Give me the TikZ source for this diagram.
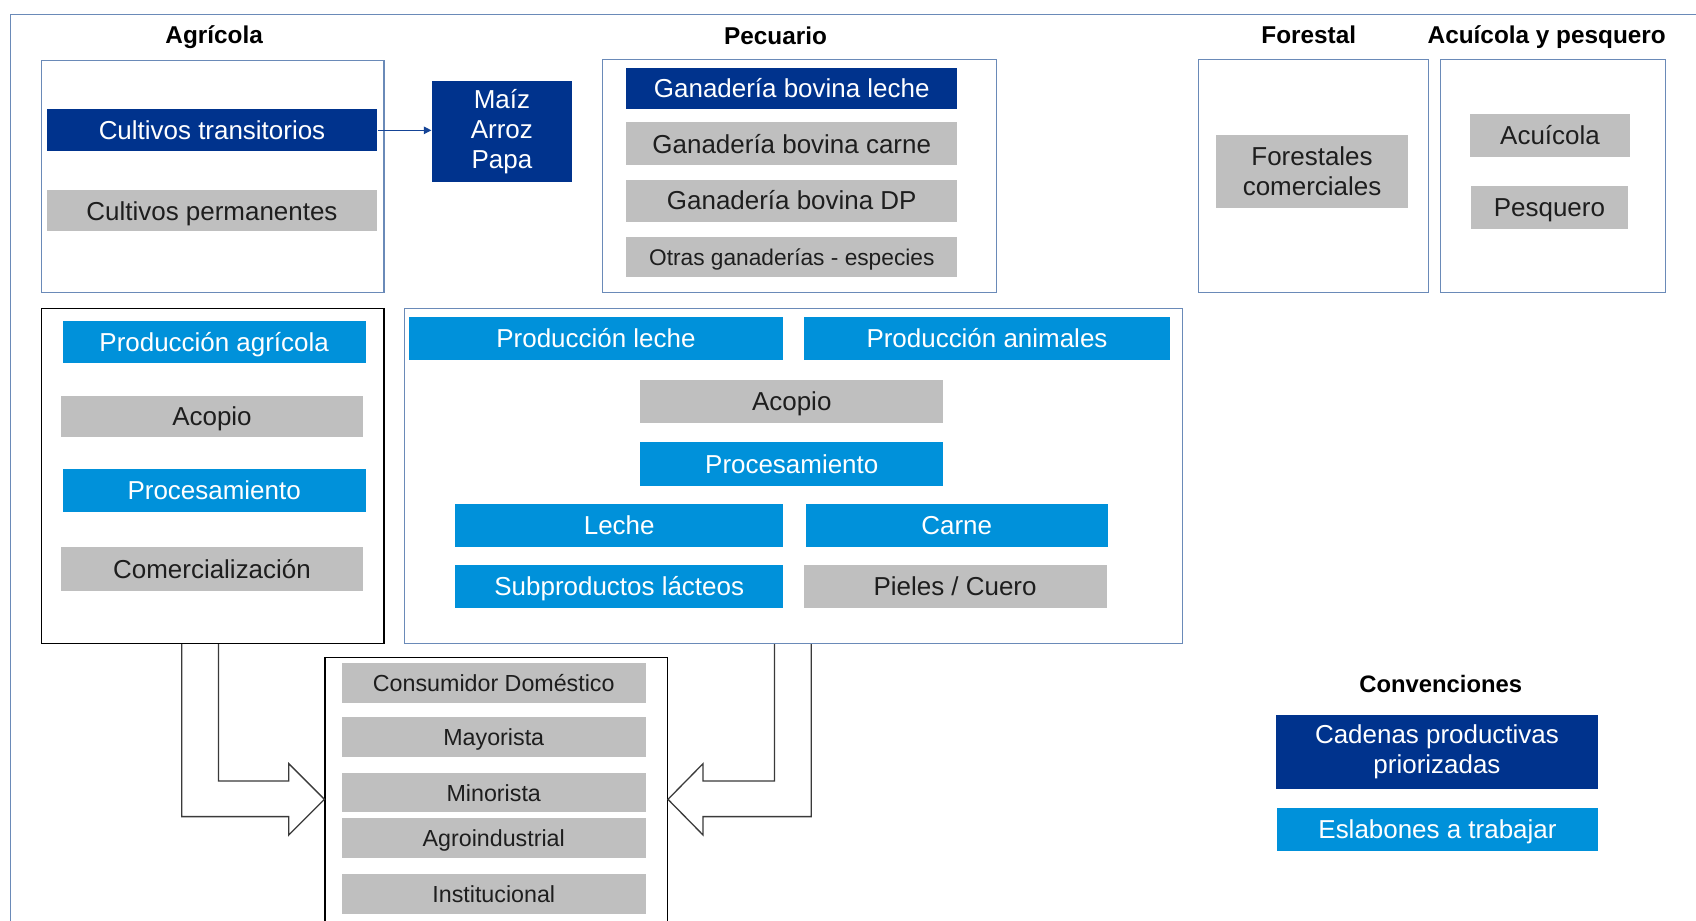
\documentclass[tikz,border=0pt]{standalone}
\usepackage{fontspec}
\setmainfont{Liberation Sans}
\usetikzlibrary{arrows.meta}
\definecolor{dkblue}{HTML}{00338D}
\definecolor{ltblue}{HTML}{0091DA}
\definecolor{gbox}{HTML}{BFBFBF}
\definecolor{frameblue}{HTML}{6A8AB8}
\definecolor{gtext}{HTML}{1E1E1E}
\definecolor{arrowgray}{HTML}{3A3A3A}
\tikzset{
  box/.style={rectangle, inner sep=0pt, align=center, font=\fontsize{24}{27.5}\selectfont,
    text height=22.2pt, text depth=5pt},
  multi/.style={text height={}, text depth={}},
  dk/.style={box, fill=dkblue, text=white},
  lb/.style={box, fill=ltblue, text=white},
  gr/.style={box, fill=gbox, text=gtext},
  ttl/.style={font=\fontsize{22.5}{26}\selectfont\bfseries, text=black, text height=21.1pt, text depth=5pt, inner sep=0pt},
  bluecont/.style={rectangle, draw=frameblue, line width=1pt, inner sep=0pt},
  blackcont/.style={rectangle, draw=black, line width=1.1pt, inner sep=0pt},
  blockarrow/.style={draw=arrowgray, line width=1.2pt, line join=miter},
}
\begin{document}
\begin{tikzpicture}[x=1pt,y=-1pt]
\clip (0,0) rectangle (1568,851);
\fill[white] (0,0) rectangle (1568,851);
% outer frame
\draw[frameblue, line width=1pt] (10,900) -- (10,13) -- (1600,13);

% titles
\node[ttl] (tAgr) at (198,32) {Agrícola};
\node[ttl] (tPec) at (717,33) {Pecuario};
\node[ttl] (tFor) at (1210,32) {Forestal};
\node[ttl] (tAcu) at (1430,32) {Acuícola y pesquero};
\node[ttl, font=\fontsize{22}{26}\selectfont\bfseries, text height=20.8pt] (tConv) at (1332,632) {Convenciones};

% containers
\node[bluecont, minimum width=317pt, minimum height=214pt] (agrBox) at (196.5,163) {};
\node[bluecont, minimum width=364pt, minimum height=215pt] (pecBox) at (739,162.5) {};
\node[bluecont, minimum width=213pt, minimum height=215pt] (forBox) at (1214.5,162.5) {};
\node[bluecont, minimum width=208pt, minimum height=215pt] (acuBox) at (1436,162.5) {};
\node[blackcont, minimum width=317pt, minimum height=310pt] (agrChain) at (196.5,440) {};
\node[bluecont, minimum width=719pt, minimum height=310pt] (pecChain) at (733.5,440) {};
\node[blackcont, minimum width=316.5pt, minimum height=290pt] (consBox) at (458.75,753) {};

% Agricola
\node[dk, minimum width=306pt, minimum height=39pt] (ct) at (196,120.5) {Cultivos transitorios};
\node[gr, minimum width=306pt, minimum height=38pt] (cp) at (196,195) {Cultivos permanentes};
\node[dk, multi, minimum width=130pt, minimum height=94pt] (maiz) at (464,121.5) {Maíz\\Arroz\\Papa};
\draw[draw=dkblue!80!frameblue, line width=1pt, -{Triangle[length=7pt,width=7pt]}] (ct.east) -- (maiz.west |- ct.east);

% Pecuario
\node[dk, minimum width=306pt, minimum height=38pt] (gbl) at (732,82) {Ganadería bovina leche};
\node[gr, minimum width=306pt, minimum height=40pt] (gbc) at (732,133) {Ganadería bovina carne};
\node[gr, minimum width=306pt, minimum height=39pt] (gbd) at (732,185.5) {Ganadería bovina DP};
\node[gr, minimum width=306pt, minimum height=37pt, font=\fontsize{21}{24}\selectfont, text height=20pt] (ogs) at (732,237.5) {Otras ganaderías - especies};

% Forestal
\node[gr, multi, minimum width=178pt, minimum height=67pt] (fc) at (1213,158.5) {Forestales\\comerciales};

% Acuicola
\node[gr, minimum width=148pt, minimum height=40pt] (acu) at (1433,125) {Acuícola};
\node[gr, minimum width=145pt, minimum height=40pt] (pes) at (1432.5,192) {Pesquero};

% Agricola chain
\node[lb, minimum width=280pt, minimum height=39pt] (pa) at (198,316.5) {Producción agrícola};
\node[gr, minimum width=280pt, minimum height=38pt] (aco1) at (196,385) {Acopio};
\node[lb, minimum width=280pt, minimum height=39pt] (pro1) at (198,453.5) {Procesamiento};
\node[gr, minimum width=280pt, minimum height=40pt] (com) at (196,526) {Comercialización};

% Pecuario chain
\node[lb, minimum width=346pt, minimum height=40pt] (pl) at (551,313) {Producción leche};
\node[lb, minimum width=339pt, minimum height=40pt] (pan) at (912.5,313) {Producción animales};
\node[gr, minimum width=280pt, minimum height=40pt] (aco2) at (732,371) {Acopio};
\node[lb, minimum width=280pt, minimum height=40pt] (pro2) at (732,429) {Procesamiento};
\node[lb, minimum width=303pt, minimum height=40pt] (lec) at (572.5,486) {Leche};
\node[lb, minimum width=279pt, minimum height=40pt] (car) at (884.5,486) {Carne};
\node[lb, minimum width=303pt, minimum height=40pt] (sub) at (572.5,542) {Subproductos lácteos};
\node[gr, minimum width=280pt, minimum height=40pt] (pie) at (883,542) {Pieles / Cuero};

% Consumers
\tikzset{cons/.style={gr, minimum width=281pt, font=\fontsize{21.5}{24}\selectfont, text height=20.4pt}}
\node[cons, minimum height=37pt] (c1) at (456.5,631.5) {Consumidor Doméstico};
\node[cons, minimum height=37pt] (c2) at (456.5,681.5) {Mayorista};
\node[cons, minimum height=36pt] (c3) at (456.5,733) {Minorista};
\node[cons, minimum height=37pt] (c4) at (456.5,774.5) {Agroindustrial};
\node[cons, minimum height=37pt] (c5) at (456.5,826.5) {Institucional};

% Block arrows
\draw[blockarrow] (168,0 |- agrChain.south) -- (168,755) -- (267,755) -- (267,772)
  -- (consBox.west |- 0,739) -- (267,706) -- (267,722) -- (202,722) -- (202,0 |- agrChain.south);
\draw[blockarrow] (750,0 |- pecChain.south) -- (750,755) -- (650,755) -- (650,772)
  -- (consBox.east |- 0,739) -- (650,706) -- (650,722) -- (716,722) -- (716,0 |- pecChain.south);

% Legend
\node[dk, multi, minimum width=297pt, minimum height=68pt] (leg1) at (1328.5,695) {Cadenas productivas\\priorizadas};
\node[lb, minimum width=296pt, minimum height=40pt] (leg2) at (1329,767) {Eslabones a trabajar};
\end{tikzpicture}
\end{document}
